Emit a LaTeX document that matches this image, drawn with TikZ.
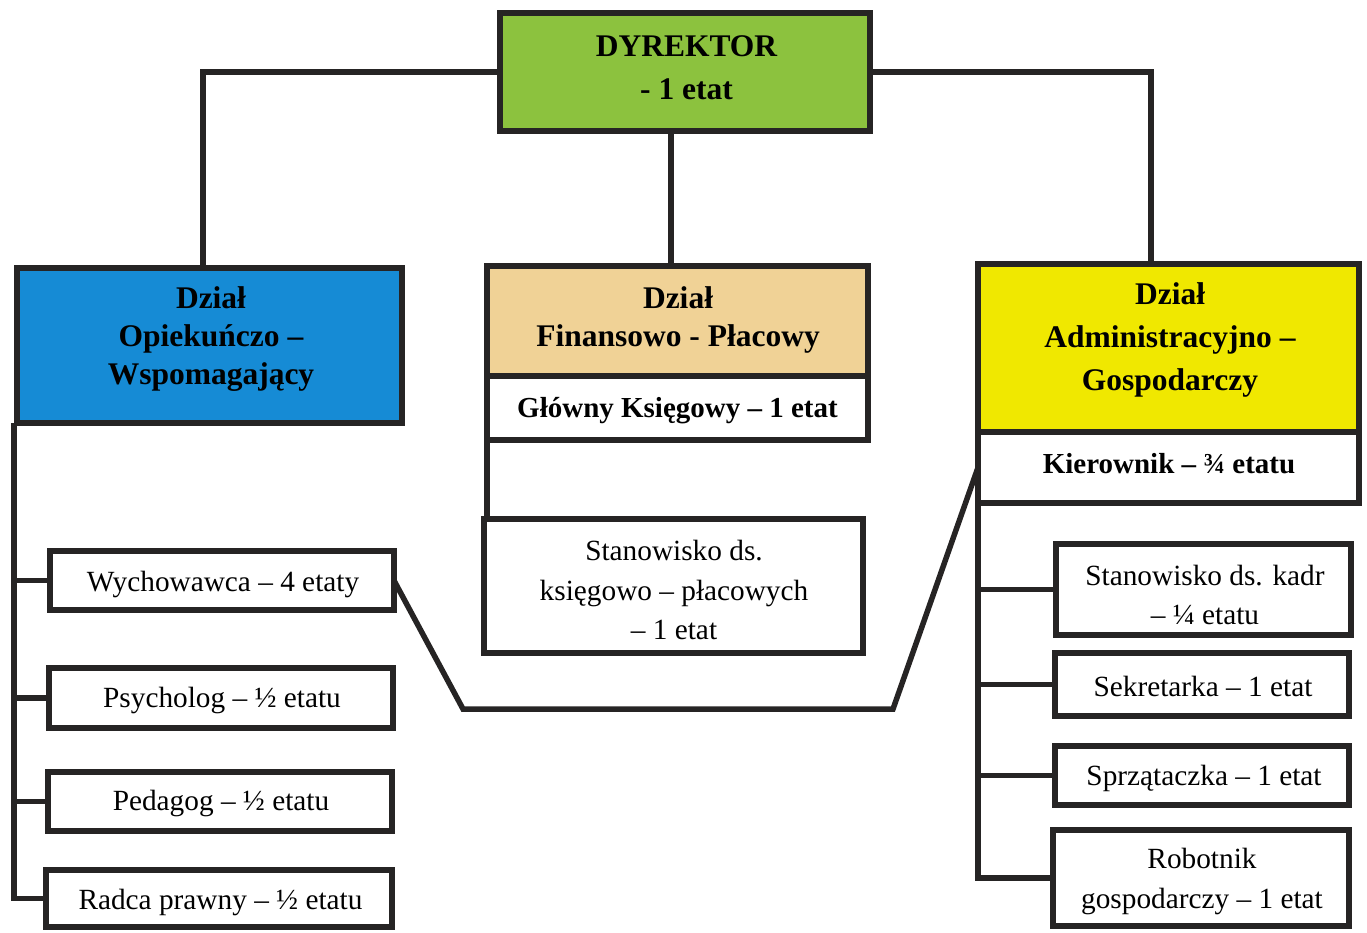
\documentclass[tikz,border=0pt]{standalone}
\usepackage{fontspec}
\setmainfont{Liberation Serif}
\definecolor{ln}{HTML}{262424}
\definecolor{dirgreen}{HTML}{8CC23E}
\definecolor{opblue}{HTML}{168BD5}
\definecolor{fintan}{HTML}{F0D296}
\definecolor{admyel}{HTML}{F0E800}
\begin{document}
\begin{tikzpicture}[x=1pt,y=-1pt,
  bx/.style={draw=ln, line width=6pt, inner sep=0pt, outer sep=0pt, fill=white},
  conn/.style={draw=ln, line width=5.5pt},
  txt/.style={align=center, inner sep=0pt, text=black},
  hd/.style={txt, font=\bfseries\fontsize{31.5}{38}\selectfont},
  hdw/.style={txt, font=\bfseries\fontsize{31.5}{43}\selectfont},
  sb/.style={txt, font=\bfseries\fontsize{29}{35}\selectfont},
  rg/.style={txt, font=\fontsize{29.3}{39.5}\selectfont}]
\useasboundingbox (0,0) rectangle (1367,932);
% boxes
\node[bx, fill=dirgreen, minimum width=370pt, minimum height=118pt] (dir) at (685,72) {};
\node[bx, fill=opblue, minimum width=385pt, minimum height=155pt] (blue) at (209.5,345.5) {};
\node[bx, fill=fintan, minimum width=381pt, minimum height=110pt] (tan) at (677.5,321) {};
\node[bx, minimum width=381pt, minimum height=64pt] (gk) at (677.5,408) {};
\node[bx, minimum width=379pt, minimum height=134pt] (stan) at (673.5,586) {};
\node[bx, fill=admyel, minimum width=381pt, minimum height=168pt] (yel) at (1168.5,348) {};
\node[bx, minimum width=381pt, minimum height=71pt] (kier) at (1168.5,467.5) {};
\node[bx, minimum width=344pt, minimum height=59pt] (wych) at (222,580.5) {};
\node[bx, minimum width=344pt, minimum height=60pt] (psy) at (221,698) {};
\node[bx, minimum width=344pt, minimum height=59pt] (ped) at (220,801.5) {};
\node[bx, minimum width=346pt, minimum height=57pt] (rad) at (219,898.5) {};
\node[bx, minimum width=295pt, minimum height=91pt] (kadr) at (1203.5,589.5) {};
\node[bx, minimum width=294pt, minimum height=63pt] (sek) at (1202,684.5) {};
\node[bx, minimum width=294pt, minimum height=59pt] (spr) at (1202,775.5) {};
\node[bx, minimum width=296pt, minimum height=96pt] (rob) at (1201,878) {};
% texts
\node[hdw] (dirT) at (686.5,67.5) {DYREKTOR\\- 1 etat};
\node[hd] (blueT) at (211,339) {Dział\\Opiekuńczo –\\Wspomagający};
\node[hd] (tanT) at (678,320) {Dział\\Finansowo - Płacowy};
\node[sb] (gkT) at (677.5,411) {Główny Księgowy – 1 etat};
\node[rg] (stanT) at (674,590) {Stanowisko ds.\\księgowo – płacowych\\– 1 etat};
\node[hdw] (yelT) at (1170,340) {Dział\\Administracyjno –\\Gospodarczy};
\node[sb] (kierT) at (1169,464) {Kierownik – ¾ etatu};
\node[rg] (wychT) at (223,584) {Wychowawca – 4 etaty};
\node[rg] (psyT) at (222,700.5) {Psycholog – ½ etatu};
\node[rg] (pedT) at (221,803.5) {Pedagog – ½ etatu};
\node[rg] (radT) at (220.5,902.5) {Radca prawny – ½ etatu};
\node[rg, font=\fontsize{29.3}{39}\selectfont] (kadrT) at (1205,595) {Stanowisko ds. kadr\\– ¼ etatu};
\node[rg] (sekT) at (1203,686.5) {Sekretarka – 1 etat};
\node[rg] (sprT) at (1204,778.5) {Sprzątaczka – 1 etat};
\node[rg, font=\fontsize{29.3}{40}\selectfont] (robT) at (1202,881.5) {Robotnik\\gospodarczy – 1 etat};
% connectors
\draw[conn] (dir.west) -| ([xshift=-6.5pt]blue.north);
\draw[conn] (dir.east) -| ([xshift=-17.5pt]yel.north);
\draw[conn] ([xshift=-14pt]dir.south) -- ([xshift=-6.5pt]tan.north);
\draw[conn] (gk.south west) -- (gk.south west |- stan.north);
\coordinate (lb) at (14,423);
\draw[conn] (lb) |- (rad.west);
\foreach \n in {wych,psy,ped} \draw[conn] (lb |- \n.west) -- (\n.west);
\draw[conn] (kier.south west) |- (rob.west);
\foreach \n in {kadr,sek,spr} \draw[conn] (kier.south west |- \n.west) -- (\n.west);
\coordinate (c1) at (463,709);
\coordinate (c2) at (893,709);
\draw[conn] (wych.east) -- (c1) -- (c2) -- (kier.west);
\end{tikzpicture}
\end{document}
